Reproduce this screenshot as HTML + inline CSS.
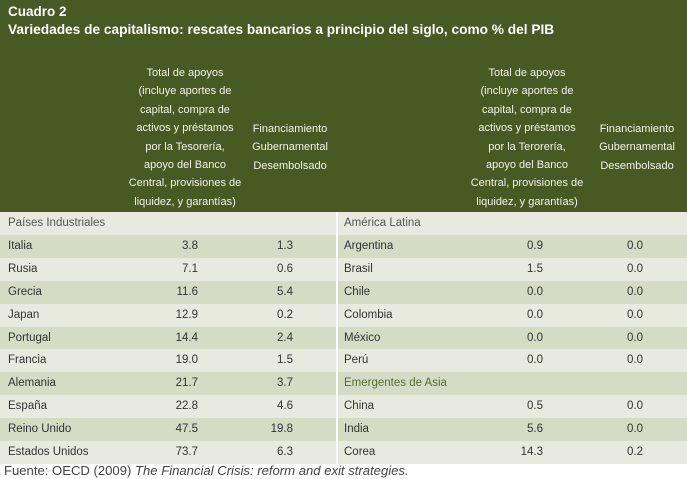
<!DOCTYPE html>
<html><head><meta charset="utf-8"><style>
body{margin:0;width:687px;height:479px;background:#fff;font-family:"Liberation Sans",sans-serif;position:relative;overflow:hidden}
.hdr{position:absolute;left:0;top:0;width:687px;height:212px;background:#485a23;color:#fff}
.t1{position:absolute;left:8px;top:4px;font-weight:bold;font-size:13.5px}
.t2{position:absolute;left:8px;top:22px;font-weight:bold;font-size:13.7px}
.hc{position:absolute;text-align:center;font-size:11px;line-height:18.4px;color:#f2f2ea}
.row{position:absolute;height:23px;font-size:11.5px;color:#333;line-height:23px}
.c{position:absolute;top:0}
.r{text-align:right}
.div{position:absolute;left:336px;top:212px;width:2px;height:252px;background:#fff}
.foot{position:absolute;left:4px;top:463px;font-size:13.1px;color:#444}
</style></head><body>
<div class="hdr">
<div class="t1">Cuadro 2</div>
<div class="t2">Variedades de capitalismo: rescates bancarios a principio del siglo, como % del PIB</div>
<div class="hc" style="left:115px;top:64px;width:140px">Total de apoyos<br>(incluye aportes de<br>capital, compra de<br>activos y préstamos<br>por la Tesorería,<br>apoyo del Banco<br>Central, provisiones de<br>liquidez, y garantías)</div>
<div class="hc" style="left:240px;top:120px;width:100px">Financiamiento<br>Gubernamental<br>Desembolsado</div>
<div class="hc" style="left:457px;top:64px;width:140px">Total de apoyos<br>(incluye aportes de<br>capital, compra de<br>activos y préstamos<br>por la Terorería,<br>apoyo del Banco<br>Central, provisiones de<br>liquidez, y garantías)</div>
<div class="hc" style="left:587px;top:120px;width:100px">Financiamiento<br>Gubernamental<br>Desembolsado</div>
</div>
<div id="rows"></div>
<div class="div"></div>
<div class="foot">Fuente: OECD (2009) <i>The Financial Crisis: reform and exit strategies.</i></div>
<script>
const leftNames=["Países Industriales","Italia","Rusia","Grecia","Japan","Portugal","Francia","Alemania","España","Reino Unido","Estados Unidos"];
const leftTotal=[null,"3.8","7.1","11.6","12.9","14.4","19.0","21.7","22.8","47.5","73.7"];
const leftFin=[null,"1.3","0.6","5.4","0.2","2.4","1.5","3.7","4.6","19.8","6.3"];
const rightNames=["América Latina","Argentina","Brasil","Chile","Colombia","México","Perú","Emergentes de Asia","China","India","Corea"];
const rightTotal=[null,"0.9","1.5","0.0","0.0","0.0","0.0",null,"0.5","5.6","14.3"];
const rightFin=[null,"0.0","0.0","0.0","0.0","0.0","0.0",null,"0.0","0.0","0.2"];
const host=document.getElementById('rows');
function mk(side,i,names,tot,fin){
  const x0=side?338:0,w=side?349:336;
  const d=document.createElement('div');
  d.className='row';
  
  
  d.style.left=x0+'px';d.style.width=w+'px';d.style.top=(212+i*22.9)+'px';
  d.style.background=i%2?'#d6dbc6':'#e8eadf';
  const sec=tot[i]===null;
  let h='<span class="c" style="left:'+(side?6:8)+'px;'+(sec?(names[i]==='Emergentes de Asia'?'color:#5a6b32':'color:#555'):'')+'">'+names[i]+'</span>';
  if(!sec){
    h+='<span class="c r" style="left:'+(side?145:100)+'px;width:'+(side?60:98)+'px">'+tot[i]+'</span>';
    h+='<span class="c r" style="left:'+(side?245:200)+'px;width:'+(side?60:93)+'px">'+fin[i]+'</span>';
  }
  d.innerHTML=h;host.appendChild(d);
}
for(let i=0;i<11;i++){mk(0,i,leftNames,leftTotal,leftFin);mk(1,i,rightNames,rightTotal,rightFin);}
</script>
</body></html>
